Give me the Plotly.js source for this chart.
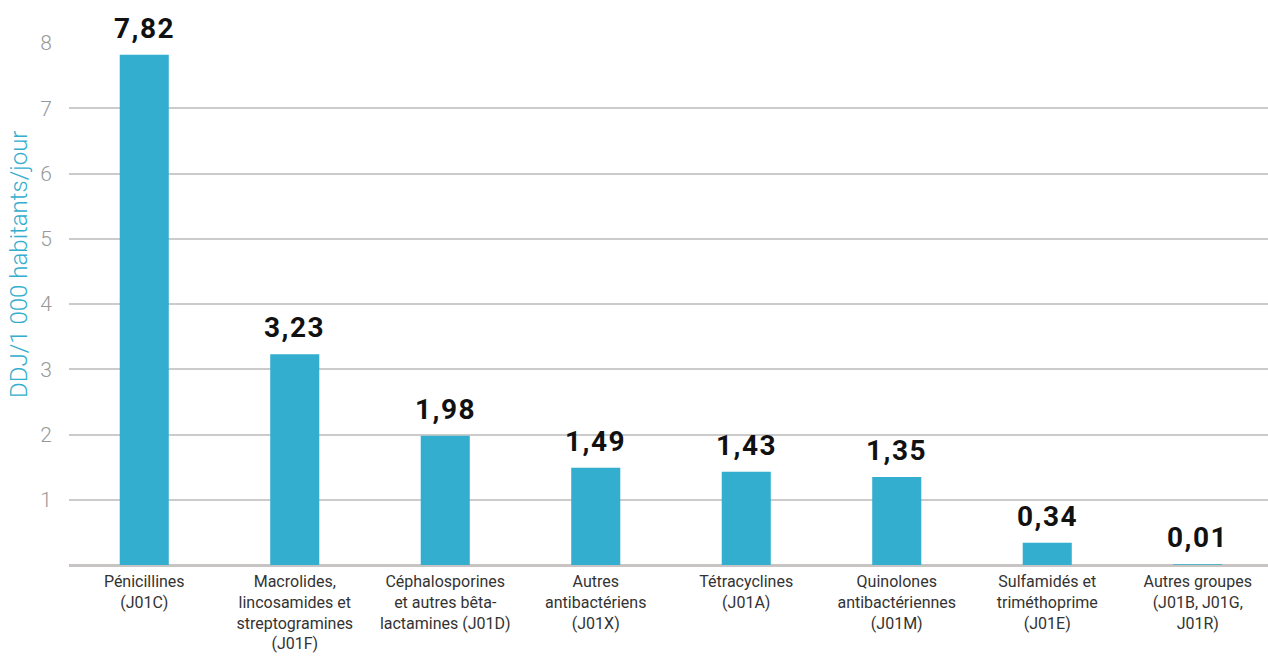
<!DOCTYPE html>
<html>
<head>
<meta charset="utf-8">
<script src="https://cdn.plot.ly/plotly-3.0.1.min.js"></script>
<style>
html,body{margin:0;padding:0;background:#fff;overflow:hidden;}
#chart{width:1268px;height:662px;overflow:hidden;}
.annotation-text.vlabel{letter-spacing:1.5px;}
</style>
</head>
<body>
<div id="chart"></div>
<script>
const categories = [
  "Pénicillines<br>(J01C)",
  "Macrolides,<br>lincosamides et<br>streptogramines<br>(J01F)",
  "Céphalosporines<br>et autres bêta-<br>lactamines (J01D)",
  "Autres<br>antibactériens<br>(J01X)",
  "Tétracyclines<br>(J01A)",
  "Quinolones<br>antibactériennes<br>(J01M)",
  "Sulfamidés et<br>triméthoprime<br>(J01E)",
  "Autres groupes<br>(J01B, J01G,<br>J01R)"
];
const values = [7.82, 3.23, 1.98, 1.49, 1.43, 1.35, 0.34, 0.01];
const valueLabels = ["7,82", "3,23", "1,98", "1,49", "1,43", "1,35", "0,34", "0,01"];
const yTicks = [1, 2, 3, 4, 5, 6, 7, 8];

const trace = {
  type: 'bar',
  x: categories,
  y: values,
  marker: {color: '#33AECE'},
  hoverinfo: 'none'
};

const labelAnnotations = categories.map((c, i) => ({
  x: c, y: values[i], xref: 'x', yref: 'y',
  text: valueLabels[i],
  xanchor: 'center', yanchor: 'bottom', yshift: 8,
  showarrow: false,
  font: {family: 'Roboto, sans-serif', size: 28, color: '#111', weight: 700}
}));

const layout = {
  width: 1273, height: 662,
  margin: {l: 69, r: 0, t: 43, b: 97},
  paper_bgcolor: '#fff', plot_bgcolor: '#fff',
  bargap: 0.674,
  showlegend: false,
  xaxis: {
    tickfont: {family: 'Roboto, sans-serif', size: 16, color: '#333'},
    ticks: '', showline: false, showgrid: false, zeroline: false,
    ticklabelstandoff: 5,
    automargin: false
  },
  yaxis: {
    range: [0, 8],
    tickvals: yTicks,
    ticktext: yTicks.map(String),
    tickfont: {family: 'Roboto, sans-serif', size: 21, color: '#999', weight: 300},
    showgrid: true, gridcolor: '#cbcbcb', gridwidth: 2,
    zeroline: true, zerolinecolor: '#c8c4c4', zerolinewidth: 3,
    ticks: '', ticklabelstandoff: 16,
    showline: false, automargin: false, fixedrange: true
  },
  annotations: labelAnnotations.concat([{
    text: 'DDJ/1 000 habitants/jour',
    textangle: -90,
    xref: 'paper', yref: 'paper',
    x: -0.0415, y: 0.575,
    xanchor: 'center', yanchor: 'middle',
    showarrow: false,
    font: {family: 'Roboto, sans-serif', size: 24, color: '#33AECE', weight: 300}
  }])
};

Plotly.newPlot('chart', [trace], layout, {displayModeBar: false, staticPlot: true}).then(() => {
  document.querySelectorAll('.annotation-text').forEach(el => {
    if (valueLabels.includes(el.textContent)) el.classList.add('vlabel');
  });
});
</script>
</body>
</html>
